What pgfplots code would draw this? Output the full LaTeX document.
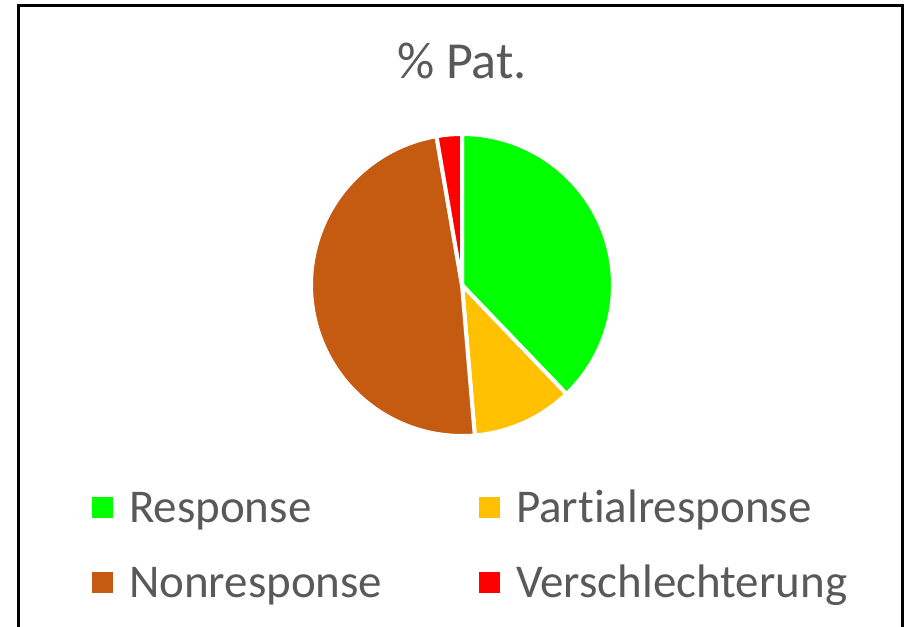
\documentclass[border=0pt]{standalone}
\usepackage{fontspec}
\setmainfont{Carlito}[Ligatures=CommonOff]
\usepackage{pgfplots}
\pgfplotsset{compat=1.18}
\definecolor{cResp}{HTML}{00FF00}
\definecolor{cPart}{HTML}{FFC000}
\definecolor{cNon}{HTML}{C55A11}
\definecolor{cVer}{HTML}{FF0000}
\definecolor{txt}{HTML}{595959}
% counts of patients
\def\nA{14}% Response
\def\nB{4}% Partialresponse
\def\nC{18}% Nonresponse
\def\nD{1}% Verschlechterung
\pgfmathsetmacro\total{\nA+\nB+\nC+\nD}
\pgfmathsetmacro\aA{90}
\pgfmathsetmacro\aB{\aA-360*\nA/\total}
\pgfmathsetmacro\aC{\aB-360*\nB/\total}
\pgfmathsetmacro\aD{\aC-360*\nC/\total}
\pgfmathsetmacro\aE{\aD-360*\nD/\total}
\begin{document}
\begin{tikzpicture}
\begin{axis}[
  name=pie,
  scale only axis, width=151pt, height=151pt,
  xmin=-1, xmax=1, ymin=-1, ymax=1,
  hide axis, clip=false,
  legend columns=2,
  legend cell align=left,
  legend image code/.code={\fill[#1, draw=none] (0pt,-3pt) rectangle (10.5pt,7.5pt);},
  legend style={draw=none, fill=none, inner sep=0pt, outer sep=0pt,
    column sep=8pt, row sep=15.5pt,
    at={(axis description cs:-0.725,-0.179)}, anchor=north west,
    font=\fontsize{23.5}{27}\selectfont, text=txt,
    nodes={inner sep=0pt, text height=16pt, text depth=6pt, text width=167pt, align=left}},
]
\addplot[fill=cResp, draw=white, line width=2pt, domain=\aB:\aA, samples=80, variable=\t, forget plot]
  ({cos(\t)},{sin(\t)}) -- (axis cs:0,0) -- cycle;
\addplot[fill=cPart, draw=white, line width=2pt, domain=\aC:\aB, samples=40, variable=\t, forget plot]
  ({cos(\t)},{sin(\t)}) -- (axis cs:0,0) -- cycle;
\addplot[fill=cNon, draw=white, line width=2pt, domain=\aD:\aC, samples=100, variable=\t, forget plot]
  ({cos(\t)},{sin(\t)}) -- (axis cs:0,0) -- cycle;
\addplot[fill=cVer, draw=white, line width=2pt, domain=\aE:\aD, samples=20, variable=\t, forget plot]
  ({cos(\t)},{sin(\t)}) -- (axis cs:0,0) -- cycle;
\addlegendimage{fill=cResp, draw=none}
\addlegendentry{Response}
\addlegendimage{fill=cPart, draw=none}
\addlegendentry{Partialresponse}
\addlegendimage{fill=cNon, draw=none}
\addlegendentry{Nonresponse}
\addlegendimage{fill=cVer, draw=none}
\addlegendentry{Verschlechterung}
\node[anchor=base, text=txt, font=\fontsize{26}{30}\selectfont, inner sep=0pt]
  at (axis description cs:0.5,1.185) {\% Pat.};
\draw[black, line width=1.5pt] (axis description cs:-0.968,-0.7) -- (axis description cs:-0.968,1.426)
  -- (axis description cs:1.957,1.426) -- (axis description cs:1.957,-0.7);
\coordinate (bbsw) at (axis description cs:-1.0298,-0.6291);
\coordinate (bbne) at (axis description cs:1.990,1.4437);
\end{axis}
\pgfresetboundingbox
\path[use as bounding box] (bbsw) rectangle (bbne);
\end{tikzpicture}
\end{document}
